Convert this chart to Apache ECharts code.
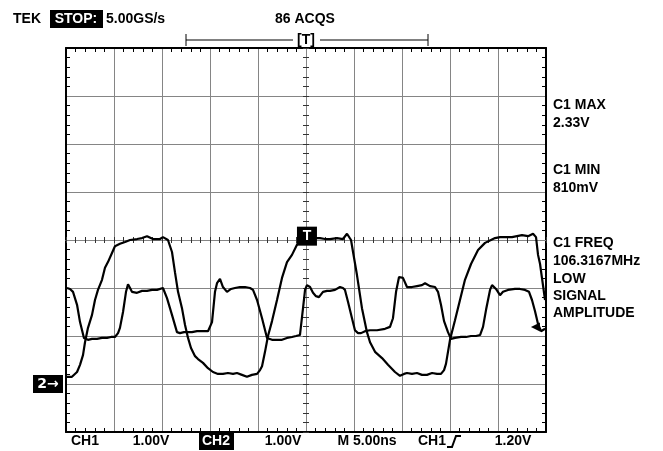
<!DOCTYPE html>
<html>
<head>
<meta charset="utf-8">
<script src="https://cdn.jsdelivr.net/npm/echarts@6/dist/echarts.min.js"></script>
<style>
html, body { margin: 0; padding: 0; background: #fff; }
#scope { width: 663px; height: 451px; }
</style>
</head>
<body>
<div id="scope"></div>
<script>
// time in ns (5 ns/div, trigger at 0), level in divisions from screen centre
var ch1Time = [-24.90, -24.38, -23.85, -23.54, -23.23, -23.02, -22.71, -22.29, -21.98, -21.67, -21.25, -20.94, -20.63, -20.21, -19.90, -19.38, -18.85, -18.33, -17.60, -17.08, -16.56, -15.94, -15.21, -14.90, -14.38, -13.96, -13.65, -13.33, -12.92, -12.60, -12.29, -11.98, -11.56, -11.25, -10.73, -10.21, -9.69, -9.17, -8.65, -8.13, -7.60, -7.19, -6.67, -6.15, -5.63, -5.10, -4.79, -4.58, -4.27, -3.96, -3.54, -3.02, -2.50, -1.98, -1.46, -0.94, -0.63, -0.10, 0.42, 0.94, 1.46, 1.98, 2.50, 3.23, 3.85, 4.27, 4.69, 4.90, 5.31, 5.83, 6.35, 6.67, 7.19, 7.92, 8.54, 9.27, 9.79, 10.21, 10.52, 11.04, 11.56, 12.08, 12.60, 13.13, 13.65, 14.06, 14.38, 14.58, 14.79, 15.00, 15.52, 16.04, 16.56, 17.19, 17.92, 18.65, 19.27, 19.69, 20.21, 20.83, 21.46, 21.98, 22.50, 23.13, 23.65, 23.96, 24.17, 24.38, 24.58, 24.90];
var ch1Div = [-2.85, -2.85, -2.75, -2.60, -2.40, -2.13, -1.83, -1.56, -1.25, -1.04, -0.83, -0.58, -0.46, -0.27, -0.13, -0.08, -0.04, 0.00, 0.02, 0.04, 0.08, 0.02, 0.02, 0.06, 0.00, -0.25, -0.67, -1.08, -1.42, -1.77, -2.04, -2.25, -2.42, -2.48, -2.56, -2.67, -2.75, -2.79, -2.79, -2.77, -2.79, -2.77, -2.81, -2.85, -2.81, -2.79, -2.71, -2.63, -2.33, -2.00, -1.69, -1.25, -0.79, -0.46, -0.31, -0.10, 0.02, 0.04, 0.04, 0.04, 0.04, 0.02, 0.02, 0.04, 0.02, 0.13, 0.00, -0.25, -0.73, -1.42, -1.92, -2.13, -2.33, -2.46, -2.60, -2.75, -2.83, -2.79, -2.77, -2.79, -2.77, -2.81, -2.81, -2.77, -2.79, -2.79, -2.71, -2.58, -2.33, -2.08, -1.67, -1.25, -0.83, -0.50, -0.21, -0.06, 0.00, 0.04, 0.06, 0.06, 0.06, 0.08, 0.10, 0.08, 0.13, 0.06, -0.31, -0.50, -0.79, -1.25];
var ch2Time = [-24.90, -24.58, -24.27, -23.85, -23.54, -23.13, -22.71, -22.29, -21.77, -21.25, -20.73, -20.31, -19.90, -19.58, -19.38, -19.06, -18.75, -18.54, -18.33, -18.13, -17.60, -17.08, -16.56, -16.04, -15.52, -14.90, -14.48, -13.96, -13.44, -13.13, -12.71, -12.29, -11.88, -11.35, -10.73, -10.21, -9.79, -9.48, -9.27, -8.96, -8.65, -8.23, -7.81, -7.40, -6.88, -6.35, -5.83, -5.52, -5.10, -4.58, -4.06, -3.54, -3.02, -2.50, -1.98, -1.46, -1.04, -0.63, -0.31, -0.10, 0.10, 0.42, 0.73, 1.04, 1.35, 1.77, 2.19, 2.50, 3.02, 3.54, 3.85, 4.06, 4.38, 4.79, 5.10, 5.42, 5.73, 6.15, 6.67, 7.40, 8.23, 8.75, 9.06, 9.38, 9.69, 10.10, 10.52, 11.04, 11.56, 12.08, 12.40, 12.92, 13.44, 13.75, 14.06, 14.38, 14.79, 15.10, 15.52, 16.15, 16.67, 17.19, 17.71, 18.13, 18.44, 18.75, 19.17, 19.38, 19.58, 19.79, 20.21, 20.52, 21.04, 21.77, 22.29, 22.81, 23.23, 23.54, 23.85, 24.17, 24.48, 24.90];
var ch2Div = [-1.00, -1.02, -1.08, -1.35, -1.71, -2.04, -2.08, -2.06, -2.06, -2.04, -2.04, -2.02, -2.02, -1.94, -1.83, -1.50, -1.08, -0.92, -1.00, -1.08, -1.10, -1.06, -1.06, -1.04, -1.04, -1.00, -1.21, -1.56, -1.92, -1.94, -1.92, -1.92, -1.92, -1.90, -1.90, -1.90, -1.71, -1.08, -0.90, -0.81, -0.98, -1.08, -1.02, -1.00, -0.98, -0.98, -1.00, -1.04, -1.25, -1.63, -2.04, -2.08, -2.08, -2.08, -2.04, -2.02, -2.00, -1.98, -1.42, -1.04, -0.94, -0.98, -1.10, -1.17, -1.19, -1.08, -1.06, -1.06, -1.04, -0.98, -1.00, -1.04, -1.29, -1.63, -1.88, -1.94, -1.94, -1.90, -1.88, -1.88, -1.85, -1.81, -1.63, -1.08, -0.77, -0.79, -0.98, -0.98, -0.96, -0.94, -0.90, -0.96, -0.98, -1.08, -1.35, -1.69, -1.92, -2.06, -2.04, -2.02, -2.02, -2.00, -2.00, -1.98, -1.81, -1.46, -1.04, -0.94, -0.96, -1.02, -1.15, -1.08, -1.04, -1.02, -1.02, -1.04, -1.08, -1.25, -1.48, -1.75, -1.90, -1.85];

var readouts = ['C1 MAX', '2.33V', 'C1 MIN', '810mV', 'C1 FREQ', '106.3167MHz', 'LOW', 'SIGNAL', 'AMPLITUDE'];
var readoutY = [105, 123, 170, 188, 243, 261, 279, 296, 313];
var bottomText = ['CH1', '1.00V', '1.00V', 'M 5.00ns', 'CH1', '1.20V'];
var bottomX = [85, 151, 283, 367, 432, 513];

var FONT = 'bold 14px "Liberation Sans", Arial, sans-serif';
var GRIDC = '#858585';

function pairs (t, v) {
  return t.map(function (x, i) { return [x, v[i]] })
}

function borderAxis (pos, min, max, step, split) {
  return {
    type: 'value', position: pos, min: min, max: max, interval: step,
    axisLine: { onZero: false, lineStyle: { color: '#000', width: 2 } },
    axisTick: { show: false, inside: true },
    minorTick: { show: true, splitNumber: 5, length: 4, lineStyle: { color: '#000', width: 1 } },
    axisLabel: { show: false },
    splitLine: { show: split, lineStyle: { color: GRIDC, width: 1 } }
  }
}

function centreAxis (pos, min, max, step, inside) {
  return {
    type: 'value', position: pos, min: min, max: max, interval: step,
    axisLine: { onZero: true, onZeroAxisIndex: 0, lineStyle: { color: GRIDC, width: 1 } },
    axisTick: { show: true, inside: inside, length: 3, lineStyle: { color: '#333' } },
    minorTick: { show: true, splitNumber: 5, length: 3, lineStyle: { color: '#333' } },
    axisLabel: { show: false },
    splitLine: { show: false }
  }
}

var graphics = [
  { type: 'text', x: 13, y: 19, style: { text: 'TEK', font: FONT, fill: '#000', textVerticalAlign: 'middle' } },
  { type: 'rect', shape: { x: 50, y: 10, width: 53, height: 18 }, style: { fill: '#000' } },
  { type: 'text', x: 76, y: 19, style: { text: 'STOP:', font: FONT, fill: '#fff', textAlign: 'center', textVerticalAlign: 'middle' } },
  { type: 'text', x: 106, y: 19, style: { text: '5.00GS/s', font: FONT, fill: '#000', textVerticalAlign: 'middle' } },
  { type: 'text', x: 305, y: 19, style: { text: '86 ACQS', font: FONT, fill: '#000', textAlign: 'center', textVerticalAlign: 'middle' } },
  { type: 'line', shape: { x1: 186, y1: 40, x2: 293, y2: 40 }, style: { stroke: '#000', lineWidth: 1 } },
  { type: 'line', shape: { x1: 320, y1: 40, x2: 428, y2: 40 }, style: { stroke: '#000', lineWidth: 1 } },
  { type: 'line', shape: { x1: 186, y1: 34, x2: 186, y2: 46 }, style: { stroke: '#000', lineWidth: 1 } },
  { type: 'line', shape: { x1: 428, y1: 34, x2: 428, y2: 46 }, style: { stroke: '#000', lineWidth: 1 } },
  { type: 'text', x: 306, y: 40, style: { text: '[T]', font: FONT, fill: '#000', textAlign: 'center', textVerticalAlign: 'middle' } },
  { type: 'rect', shape: { x: 199, y: 433, width: 35, height: 17 }, style: { fill: '#000' } },
  { type: 'text', x: 216, y: 441, style: { text: 'CH2', font: FONT, fill: '#fff', textAlign: 'center', textVerticalAlign: 'middle' } },
  { type: 'polyline', shape: { points: [[447, 447], [452, 447], [456, 436], [461, 436]] }, style: { stroke: '#000', lineWidth: 2, fill: null } }
]
readouts.forEach(function (s, i) {
  graphics.push({ type: 'text', x: 553, y: readoutY[i], style: { text: s, font: FONT, fill: '#000', textVerticalAlign: 'middle' } })
})
bottomText.forEach(function (s, i) {
  graphics.push({ type: 'text', x: bottomX[i], y: 441, style: { text: s, font: FONT, fill: '#000', textAlign: 'center', textVerticalAlign: 'middle' } })
})

var chart = echarts.init(document.getElementById('scope'), null, { renderer: 'canvas' })
chart.setOption({
  animation: false,
  backgroundColor: '#fff',
  grid: { left: 66, top: 48, width: 480, height: 384, containLabel: false, outerBoundsMode: 'none' },
  xAxis: [
    borderAxis('bottom', -25, 25, 5, true),
    borderAxis('top', -25, 25, 5, false),
    centreAxis('bottom', -25, 25, 5, true),
    centreAxis('bottom', -25, 25, 5, false)
  ],
  yAxis: [
    borderAxis('left', -4, 4, 1, true),
    borderAxis('right', -4, 4, 1, false),
    centreAxis('left', -4, 4, 1, true),
    centreAxis('left', -4, 4, 1, false)
  ],
  series: [
    {
      name: 'CH1', type: 'line', xAxisIndex: 0, yAxisIndex: 0,
      data: pairs(ch1Time, ch1Div), symbol: 'none', z: 5,
      lineStyle: { color: '#000', width: 2.2 },
      markPoint: {
        symbol: 'rect', silent: true, z: 10,
        data: [
          { coord: [0.1, 0.08], symbolSize: [20, 19], itemStyle: { color: '#000' },
            label: { show: true, formatter: 'T', color: '#fff', fontWeight: 'bold', fontSize: 14, fontFamily: 'Liberation Sans' } },
          { coord: [-25, -3], symbolSize: [30, 18], symbolOffset: [-18, 0], itemStyle: { color: '#000' },
            label: { show: true, formatter: '2\u2192', color: '#fff', fontWeight: 'bold', fontSize: 14, fontFamily: 'DejaVu Sans' } },
          { coord: [23.9, -1.81], symbol: 'triangle', symbolRotate: 90, symbolSize: [9, 9], itemStyle: { color: '#000' },
            label: { show: false } }
        ]
      }
    },
    {
      name: 'CH2', type: 'line', xAxisIndex: 0, yAxisIndex: 0,
      data: pairs(ch2Time, ch2Div), symbol: 'none', z: 5,
      lineStyle: { color: '#000', width: 2.2 }
    }
  ],
  graphic: graphics
})
</script>
</body>
</html>
